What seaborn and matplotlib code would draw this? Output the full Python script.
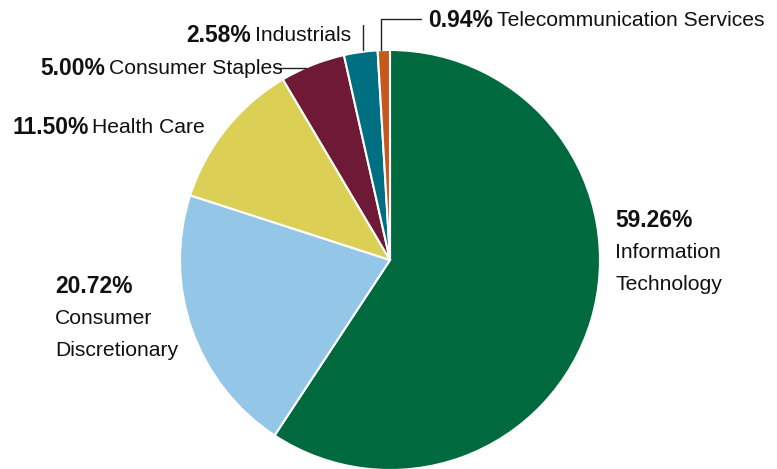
import matplotlib
matplotlib.use("Agg")
import matplotlib.pyplot as plt
import seaborn as sns

sectors = ["Information Technology", "Consumer Discretionary", "Health Care",
           "Consumer Staples", "Industrials", "Telecommunication Services"]
weights = [59.26, 20.72, 11.50, 5.00, 2.58, 0.94]
colors = ["#006a3e", "#94c6e8", "#dccf55", "#6e1a36", "#006f82", "#c65a1e"]

sns.set_style("white")
plt.rcParams['font.family'] = ['Liberation Sans Narrow', 'Liberation Sans', 'DejaVu Sans']
plt.rcParams['text.color'] = '#111111'

W, H = 777, 469
fig = plt.figure(figsize=(W / 100, H / 100), dpi=100)
ax = fig.add_axes([0, 0, 1, 1])

def py(y):
    # pixel row from the top -> data y
    return H - y

cx, cy, r = 390, 260, 210
ax.pie(weights, colors=colors, startangle=90, counterclock=False,
       center=(cx, py(cy)), radius=r, frame=True,
       wedgeprops=dict(edgecolor="white", linewidth=1.5))
ax.set_xlim(0, W)
ax.set_ylim(0, H)
ax.set_aspect("equal")
ax.axis("off")

fs_b = 16.5
fs = 15.2
renderer = fig.canvas.get_renderer()

def label(x, y, pct, name):
    t = ax.text(x, py(y), pct, fontsize=fs_b, fontweight="bold", va="center", ha="left")
    bb = t.get_window_extent(renderer=renderer)
    x2 = ax.transData.inverted().transform((bb.x1, 0))[0]
    ax.text(x2 + 4, py(y), name, fontsize=fs, va="center", ha="left")

label(428, 20, "%.2f%%" % weights[5], sectors[5])
label(186, 35, "%.2f%%" % weights[4], sectors[4])
label(40, 68, "%.2f%%" % weights[3], sectors[3])
label(12, 127, "%.2f%%" % weights[2], sectors[2])

ax.text(55, py(286), "%.2f%%" % weights[1], fontsize=fs_b, fontweight="bold", va="center")
ax.text(55, py(318), "Consumer", fontsize=fs, va="center")
ax.text(55, py(350), "Discretionary", fontsize=fs, va="center")

ax.text(615, py(220), "%.2f%%" % weights[0], fontsize=fs_b, fontweight="bold", va="center")
ax.text(615, py(252), "Information", fontsize=fs, va="center")
ax.text(615, py(284), "Technology", fontsize=fs, va="center")

# leader lines
lc = dict(color="#222222", linewidth=1)
ax.plot([363, 363], [py(25), py(50)], **lc)
ax.plot([381, 381, 421], [py(50), py(19), py(19)], **lc)
ax.plot([275, 306], [py(68), py(68)], **lc)

fig.savefig("out.png", dpi=100)
